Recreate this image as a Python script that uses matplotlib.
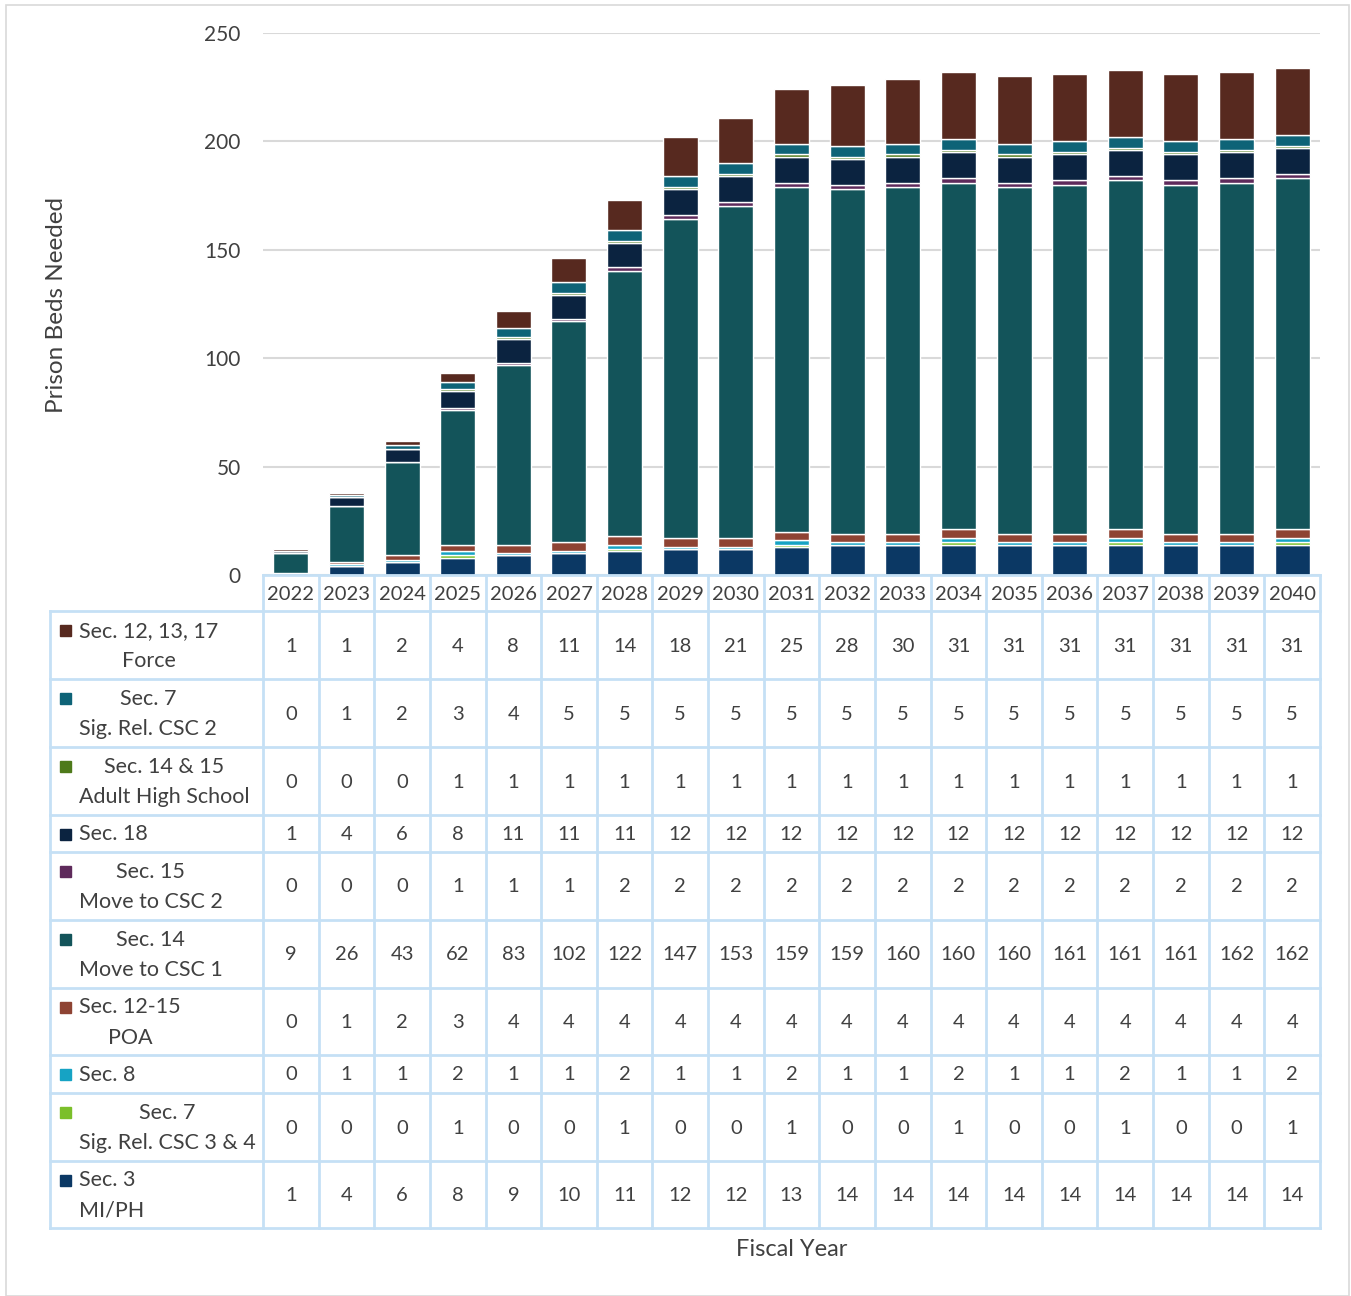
import numpy as np
import matplotlib.pyplot as plt
from matplotlib.patches import Rectangle

plt.rcParams['font.family'] = ['Lato', 'DejaVu Sans']

years = [str(y) for y in range(2022, 2041)]

# series, top row of the table first
force = [1, 1, 2, 4, 8, 11, 14, 18, 21, 25, 28, 30, 31, 31, 31, 31, 31, 31, 31]
sec7_csc2 = [0, 1, 2, 3, 4, 5, 5, 5, 5, 5, 5, 5, 5, 5, 5, 5, 5, 5, 5]
sec14_15_ahs = [0, 0, 0, 1, 1, 1, 1, 1, 1, 1, 1, 1, 1, 1, 1, 1, 1, 1, 1]
sec18 = [1, 4, 6, 8, 11, 11, 11, 12, 12, 12, 12, 12, 12, 12, 12, 12, 12, 12, 12]
sec15_csc2 = [0, 0, 0, 1, 1, 1, 2, 2, 2, 2, 2, 2, 2, 2, 2, 2, 2, 2, 2]
sec14_csc1 = [9, 26, 43, 62, 83, 102, 122, 147, 153, 159, 159, 160, 160, 160, 161, 161, 161, 162, 162]
poa = [0, 1, 2, 3, 4, 4, 4, 4, 4, 4, 4, 4, 4, 4, 4, 4, 4, 4, 4]
sec8 = [0, 1, 1, 2, 1, 1, 2, 1, 1, 2, 1, 1, 2, 1, 1, 2, 1, 1, 2]
sec7_csc34 = [0, 0, 0, 1, 0, 0, 1, 0, 0, 1, 0, 0, 1, 0, 0, 1, 0, 0, 1]
sec3 = [1, 4, 6, 8, 9, 10, 11, 12, 12, 13, 14, 14, 14, 14, 14, 14, 14, 14, 14]

labels = ['Sec. 12, 13, 17\nForce', 'Sec. 7\nSig. Rel. CSC 2', 'Sec. 14 & 15\nAdult High School',
          'Sec. 18', 'Sec. 15\nMove to CSC 2', 'Sec. 14\nMove to CSC 1', 'Sec. 12-15\nPOA',
          'Sec. 8', 'Sec. 7\nSig. Rel. CSC 3 & 4', 'Sec. 3\nMI/PH']
series = [force, sec7_csc2, sec14_15_ahs, sec18, sec15_csc2, sec14_csc1, poa, sec8, sec7_csc34, sec3]
colors = ['#57291F', '#0E6377', '#4E7A1A', '#0B2340', '#5E2A5B', '#13545A', '#8E4333',
          '#16A3C4', '#7BBF2A', '#0B3864']

W, H = 1351, 1296
fig = plt.figure(figsize=(W / 100, H / 100), dpi=100)
fig.patches.append(Rectangle((6 / W, 0), (1349 - 6) / W, (H - 5) / H, transform=fig.transFigure,
                             fill=False, edgecolor='#D9D9D9', lw=1.2))

tc = '#404040'
x0, x1 = 263, 1320
ytop, ybase = 33, 575
ax = fig.add_axes([x0 / W, 1 - ybase / H, (x1 - x0) / W, (ybase - ytop) / H])
xs = np.arange(len(years))
bottom = np.zeros(len(years))
for vals, col in zip(series[::-1], colors[::-1]):
    ax.bar(xs, vals, bottom=bottom, width=0.63, color=col, edgecolor='white', lw=1, zorder=3)
    bottom += np.array(vals)
ax.set_xlim(-0.5, len(years) - 0.5)
ax.set_ylim(0, 250)
ax.set_yticks(range(0, 251, 50))
ax.yaxis.grid(True, color='#D9D9D9', lw=1.5, zorder=0)
ax.set_xticks([])
for s in ax.spines.values():
    s.set_visible(False)
ax.tick_params(axis='y', length=0, pad=16, labelsize=15, labelcolor=tc)
fig.text(57 / W, 1 - 305 / H, 'Prison Beds Needed', rotation=90, ha='center', va='center',
         fontsize=17.5, color=tc)

# data table
tx0 = 50
row_h = [36, 68, 68, 68, 37, 68, 68, 67, 38, 68, 67]
tb = ybase + sum(row_h)
tax = fig.add_axes([tx0 / W, 1 - tb / H, (x1 - tx0) / W, (tb - ybase) / H])
tax.set_xlim(tx0, x1)
tax.set_ylim(tb, ybase)
tax.axis('off')
cw = (x1 - x0) / len(years)
bc = '#C5E0F5'
edges = np.concatenate([[ybase], ybase + np.cumsum(row_h)])
tax.plot([x0, x1], [ybase, ybase], color=bc, lw=2, clip_on=False)
for e in edges[1:]:
    tax.plot([tx0, x1], [e, e], color=bc, lw=2, clip_on=False)
tax.plot([tx0, tx0], [edges[1], tb], color=bc, lw=2, clip_on=False)
for i in range(len(years) + 1):
    xv = x0 + i * cw
    tax.plot([xv, xv], [ybase, tb], color=bc, lw=2, clip_on=False)

fs = 14.5
for i, yr in enumerate(years):
    tax.text(x0 + (i + 0.5) * cw, (edges[0] + edges[1]) / 2 + 1, yr, ha='center', va='center',
             fontsize=fs, color=tc)
for r, (lab, vals, col) in enumerate(zip(labels, series, colors)):
    ya, yb = edges[r + 1], edges[r + 2]
    ym = (ya + yb) / 2
    for i, v in enumerate(vals):
        tax.text(x0 + (i + 0.5) * cw, ym + 1, str(v), ha='center', va='center', fontsize=fs, color=tc)
    nlines = lab.count('\n') + 1
    ma = 'left' if lab.startswith('Sec. 3') else 'center'
    tax.text(79, ym + 1, lab, ha='left', va='center', multialignment=ma, fontsize=15.5, color=tc,
             linespacing=1.65)
    first = ym - (15 if nlines == 2 else 0)
    tax.add_patch(Rectangle((60, first - 5), 11, 11, color=col, clip_on=False))

fig.text((x0 + x1) / 2 / W, 1 - 1250 / H, 'Fiscal Year', ha='center', va='center', fontsize=17, color=tc)

fig.savefig('out.png', dpi=100)
